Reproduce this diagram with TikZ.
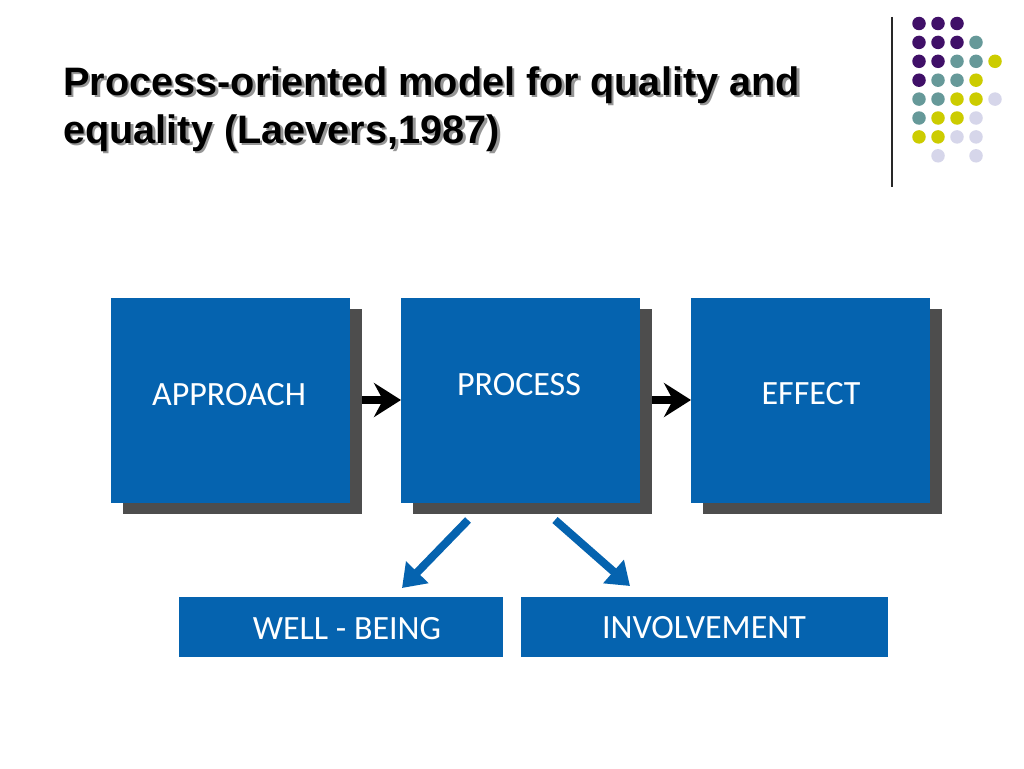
\documentclass[tikz,border=0pt]{standalone}
\usepackage{fontspec}
\setmainfont{Liberation Sans}
\newfontfamily\carl{Carlito}
\usetikzlibrary{arrows.meta}
\definecolor{boxblue}{RGB}{5,99,175}
\definecolor{shadowgray}{RGB}{77,77,77}
\definecolor{dpurple}{RGB}{64,16,104}
\definecolor{dteal}{RGB}{102,153,153}
\definecolor{dyellow}{RGB}{204,204,0}
\definecolor{dlav}{RGB}{214,214,234}
\definecolor{titleshadow}{RGB}{150,150,150}
\tikzset{
  bigbox/.style={fill=boxblue, draw=none, anchor=north west, minimum width=239pt, minimum height=205pt, inner sep=0pt},
  bigshadow/.style={fill=shadowgray, draw=none, anchor=north west, minimum width=239pt, minimum height=205pt, inner sep=0pt},
  smallbox/.style={fill=boxblue, draw=none, anchor=north west, minimum height=60pt, inner sep=0pt},
  boxtext/.style={text=white, font=\carl\fontsize{34}{40}\selectfont, anchor=base, inner sep=0pt},
  titletext/.style={font=\bfseries\fontsize{39.7}{47}\selectfont, anchor=base west, inner sep=0pt},
  blackarrow/.style={line width=8pt, -{Stealth[length=27pt, width=34pt, inset=9pt]}},
  bluearrow/.style={draw=boxblue, line width=8pt, -{Triangle[length=22pt, width=30pt]}},
  dot/.style={circle, inner sep=0pt, minimum size=13.5pt},
}
\begin{document}
\begin{tikzpicture}[x=1pt,y=-1pt]
\useasboundingbox (0,0) rectangle (1024,768);
\fill[white] (0,0) rectangle (1024,768);

% title with shadow
\node[titletext, text=titleshadow] (t1s) at (65.5,97.5) {Process-oriented model for quality and};
\node[titletext, text=titleshadow] (t2s) at (65.5,145.5) {equality (Laevers,1987)};
\node[titletext] (t1) at (63,95) {Process-oriented model for quality and};
\node[titletext] (t2) at (63,143) {equality (Laevers,1987)};

% decorative line and dots
\draw[color={rgb,255:red,40;green,40;blue,40}, line width=1.5pt] (892,17) -- (892,187);
\foreach \c/\r/\col in {
 0/0/dpurple,1/0/dpurple,2/0/dpurple,
 0/1/dpurple,1/1/dpurple,2/1/dpurple,3/1/dteal,
 0/2/dpurple,1/2/dpurple,2/2/dteal,3/2/dteal,4/2/dyellow,
 0/3/dpurple,1/3/dteal,2/3/dteal,3/3/dyellow,
 0/4/dteal,1/4/dteal,2/4/dyellow,3/4/dyellow,4/4/dlav,
 0/5/dteal,1/5/dyellow,2/5/dyellow,3/5/dlav,
 0/6/dyellow,1/6/dyellow,2/6/dlav,3/6/dlav,
 1/7/dlav,3/7/dlav}
 \node[dot, fill=\col] (d\c\r) at (919+19*\c, 23.5+18.9*\r) {};

% top boxes with shadows
\node[bigshadow] (s1) at (123,309) {};
\node[bigshadow] (s2) at (413,309) {};
\node[bigshadow] (s3) at (703,309) {};
\node[bigbox] (approach) at (111,298) {};
\node[bigbox] (process) at (401,298) {};
\node[bigbox] (effect) at (691,298) {};
\node[boxtext] (approachtxt) at (229,405) {APPROACH};
\node[boxtext] (processtxt) at (519,395) {PROCESS};
\node[boxtext] (effecttxt) at (811,404) {EFFECT};

% black arrows
\draw[blackarrow] (s1.east |- 0,400) -- (process.west |- 0,400);
\draw[blackarrow] (s2.east |- 0,400) -- (effect.west |- 0,400);

% bottom boxes
\node[smallbox, minimum width=324pt] (wellbeing) at (179,597) {};
\node[smallbox, minimum width=367pt] (involvement) at (521,597) {};
\node[boxtext] (wellbeingtxt) at (347,639) {WELL - BEING};
\node[boxtext] (involvementtxt) at (704,638) {INVOLVEMENT};

% blue arrows
\coordinate (la) at (468,520);
\coordinate (lb) at (402,588);
\coordinate (ra) at (555,520);
\coordinate (rb) at (630,586);
\draw[bluearrow] (la) -- (lb);
\draw[bluearrow] (ra) -- (rb);
\end{tikzpicture}
\end{document}
